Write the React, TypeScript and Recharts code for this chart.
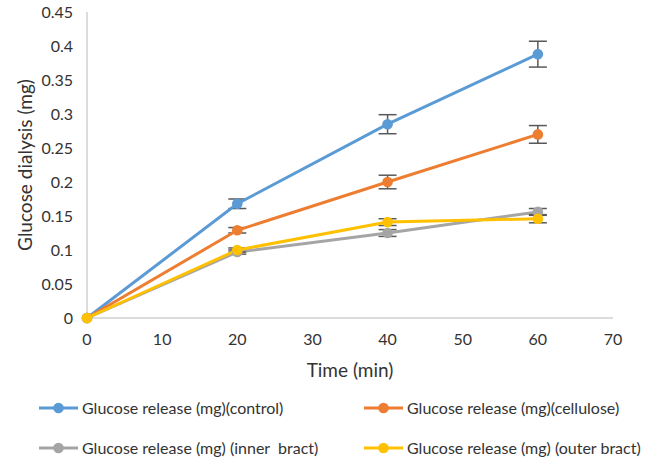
import React from "react";
import { LineChart, Line, XAxis, YAxis, ErrorBar, Legend } from "recharts";

const times = [0, 20, 40, 60];
const control = [0, 0.168, 0.285, 0.388];
const controlErr = [0, 0.007, 0.014, 0.019];
const cellulose = [0, 0.129, 0.2, 0.27];
const celluloseErr = [0, 0.004, 0.01, 0.013];
const inner = [0, 0.097, 0.125, 0.156];
const innerErr = [0, 0.003, 0.005, 0.005];
const outer = [0, 0.1, 0.141, 0.146];
const outerErr = [0, 0.003, 0.005, 0.006];

const xTicks = [0, 10, 20, 30, 40, 50, 60, 70];
const yTicks = [0, 0.05, 0.1, 0.15, 0.2, 0.25, 0.3, 0.35, 0.4, 0.45];

const series = [
  { key: "control", name: "Glucose release (mg)(control)", color: "#5B9BD5", values: control, err: controlErr },
  { key: "cellulose", name: "Glucose release (mg)(cellulose)", color: "#ED7D31", values: cellulose, err: celluloseErr },
  { key: "inner", name: "Glucose release (mg) (inner  bract)", color: "#A5A5A5", values: inner, err: innerErr },
  { key: "outer", name: "Glucose release (mg) (outer bract)", color: "#FFC000", values: outer, err: outerErr },
];

const data = times.map((t, i) => {
  const row: any = { time: t };
  series.forEach((s) => {
    row[s.key] = s.values[i];
    row[s.key + "Err"] = s.err[i];
  });
  return row;
});

const FONT = "Lato, 'Liberation Sans', sans-serif";
const TEXT = "#333333";

const LegendContent = () => (
  <div style={{ position: "relative", width: 646, height: 52, fontFamily: FONT, fontSize: 16, color: TEXT }}>
    {series.map((s, i) => {
      const col = i % 2;
      const row = Math.floor(i / 2);
      return (
        <div
          key={s.key}
          style={{
            position: "absolute",
            left: col === 0 ? 39 : 364,
            top: row * 40,
            height: 12,
            display: "flex",
            alignItems: "center",
            whiteSpace: "pre",
            lineHeight: "12px",
          }}
        >
          <svg width={39} height={12} style={{ marginRight: 4, flex: "none" }}>
            <line x1={0} y1={6} x2={39} y2={6} stroke={s.color} strokeWidth={3} />
            <circle cx={19.5} cy={6} r={5.3} fill={s.color} />
          </svg>
          <span>{s.name}</span>
        </div>
      );
    })}
  </div>
);

export default function App() {
  return (
    <div style={{ position: "absolute", left: 0, top: 0, width: 646, height: 458, background: "#fff" }}>
      <LineChart width={646} height={458} data={data} margin={{ top: 12, right: 33, left: 20, bottom: 4 }}>
        <XAxis
          dataKey="time"
          type="number"
          domain={[0, 70]}
          ticks={xTicks}
          tickLine={false}
          tickMargin={10}
          stroke="#D0D0D0"
          strokeWidth={1.5}
          tick={{ fill: TEXT, fontSize: 16, fontFamily: FONT }}
          height={84}
          label={{ value: "Time (min)", position: "insideBottom", offset: 25, fill: TEXT, fontSize: 19, fontFamily: FONT }}
        />
        <YAxis
          type="number"
          domain={[0, 0.45]}
          ticks={yTicks}
          tickLine={false}
          tickMargin={8}
          stroke="#D0D0D0"
          strokeWidth={1.5}
          width={67}
          tick={{ fill: TEXT, fontSize: 16, fontFamily: FONT }}
          tickFormatter={(v: number) => String(Number(v.toFixed(2)))}
          label={{ value: "Glucose dialysis (mg)", angle: -90, position: "insideLeft", offset: 5, fill: TEXT, fontSize: 19, fontFamily: FONT, style: { textAnchor: "middle" } }}
        />
        <Legend verticalAlign="bottom" content={<LegendContent />} wrapperStyle={{ left: 0, width: 646 }} />
        {series.map((s) => (
          <Line
            key={s.key}
            type="linear"
            dataKey={s.key}
            name={s.name}
            stroke={s.color}
            strokeWidth={3}
            dot={{ r: 5.3, fill: s.color, stroke: s.color, strokeWidth: 0 }}
            activeDot={false}
            isAnimationActive={false}
          >
            <ErrorBar dataKey={s.key + "Err"} width={9} stroke="#595959" strokeWidth={1.5} direction="y" />
          </Line>
        ))}
      </LineChart>
    </div>
  );
}
